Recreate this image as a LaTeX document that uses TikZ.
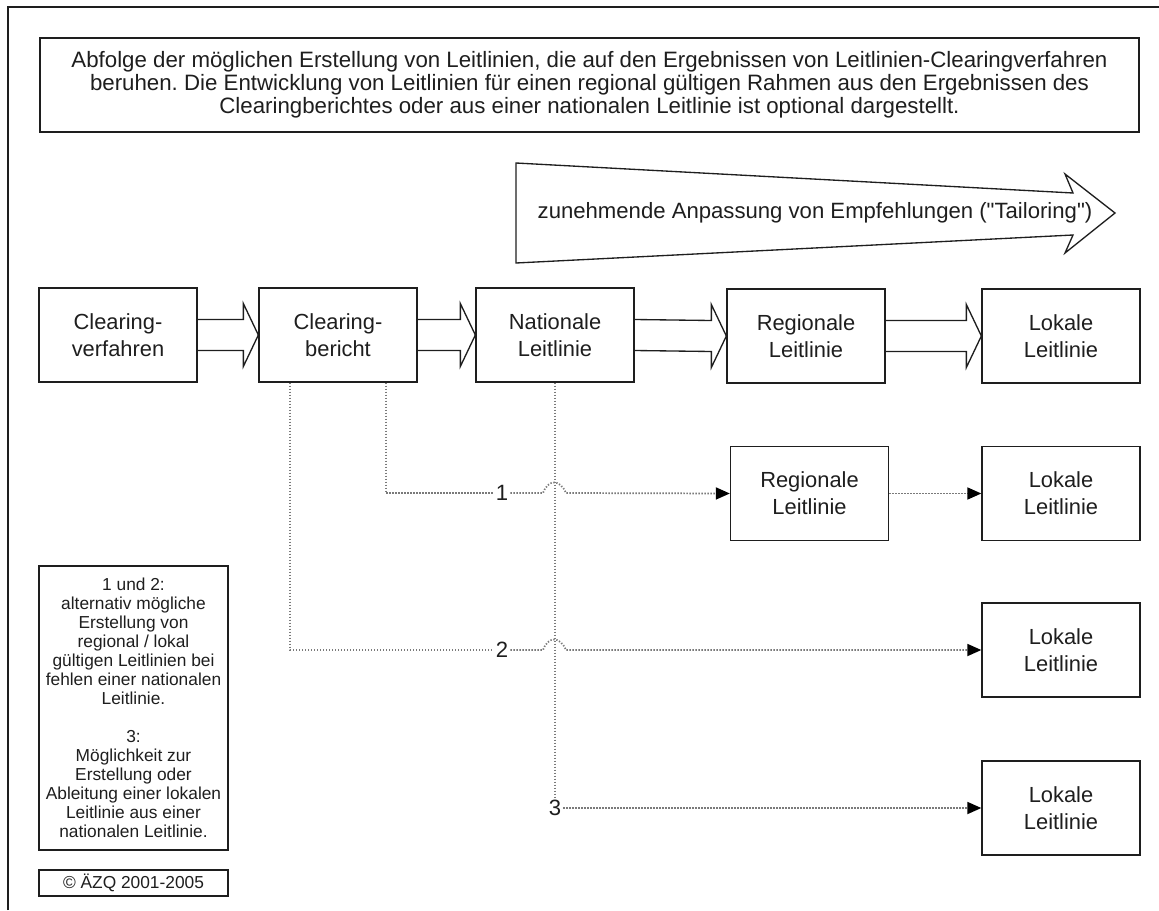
\documentclass[tikz,border=0pt]{standalone}
\usepackage{fontspec}
\setmainfont{Liberation Sans}
\usetikzlibrary{calc,arrows.meta}
\frenchspacing

\definecolor{ink}{HTML}{1E1E1E}
\definecolor{dots}{HTML}{7A7A7A}

\tikzset{
  box/.style={draw=ink, line width=1pt, text=ink, minimum width=118.5pt,
    minimum height=70.5pt, inner sep=0pt, align=center,
    font=\fontsize{16.4}{20}\selectfont},
  num/.style={text=ink, inner sep=1.5pt, font=\fontsize{16.6}{18}\selectfont},
  blockarrow/.style={draw=ink, line width=1pt},
  dotline/.style={draw=dots, line width=1.3pt, dash pattern=on 1pt off 1.25pt},
  tip/.style={-{Triangle[length=10.5pt,width=9pt,color=black]}}
}

\begin{document}
\begin{tikzpicture}[x=0.75pt, y=-0.75pt]
  \useasboundingbox (0,0) rectangle (1159,910);
  % frame
  \draw[ink, line width=1pt] (8,910) -- (8,7) -- (1159,7);
  % heading
  \node[box, minimum width=824.25pt, font=\fontsize{16.7}{17.1}\selectfont]
    (head) at (589.5,85)
    {Abfolge der möglichen Erstellung von Leitlinien, die auf den Ergebnissen von Leitlinien-Clearingverfahren\\
     beruhen. Die Entwicklung von Leitlinien für einen regional gültigen Rahmen aus den Ergebnissen des\\
     Clearingberichtes oder aus einer nationalen Leitlinie ist optional dargestellt.};
  % tailoring arrow
  \draw[blockarrow] (516,163) -- (1073,193) -- (1065,174) -- (1115,213)
    -- (1065,253) -- (1073,235) -- (516,263) -- cycle;
  \node[num] (tailor) at (815,213)
    {zunehmende Anpassung von Empfehlungen (\textquotedbl Tailoring\textquotedbl)};
  % - main row
  \node[box] (cv) at (118,335) {Clearing-\\verfahren};
  \node[box] (cb) at (338,335) {Clearing-\\bericht};
  \node[box] (nl) at (555,335) {Nationale\\Leitlinie};
  \node[box] (rl) at (806,336) {Regionale\\Leitlinie};
  \node[box] (ll) at (1061,336) {Lokale\\Leitlinie};
  \foreach \s/\t in {cv/cb, cb/nl, nl/rl, rl/ll}
    \draw[blockarrow] ($(\s.east)+(0,-15.5)$) -- ($(\t.west)+(-15,-15.5)$)
      -- ($(\t.west)+(-15,-31.5)$) -- (\t.west) -- ($(\t.west)+(-15,31.5)$)
      -- ($(\t.west)+(-15,15.5)$) -- ($(\s.east)+(0,15.5)$);
  % - alternatives
  \node[box] (rl2) at (809.5,493.5) {Regionale\\Leitlinie};
  \node[box] (ll2) at (1061,493.5) {Lokale\\Leitlinie};
  \node[box] (ll3) at (1061,650) {Lokale\\Leitlinie};
  \node[box] (ll4) at (1061,808) {Lokale\\Leitlinie};
  \node[num] (n1) at (502,493) {1};
  \node[num] (n2) at (502,650) {2};
  \node[num] (n3) at (555,808) {3};
  \coordinate (c1) at ($(cb.south east)+(-32,0)$);
  \coordinate (c2) at ($(cb.south west)+(32,0)$);
  % path 1
  \draw[dotline] (c1) |- (n1.west);
  \draw[dotline, tip] (n1.east) -- (543,493) .. controls (548,479) and (560,479) .. (566,493)
    -- (rl2.west);
  \draw[dotline, tip] (rl2.east) -- (ll2.west);
  % path 2
  \draw[dotline] (c2) |- (n2.west);
  \draw[dotline, tip] (n2.east) -- (543,650) .. controls (548,636) and (560,636) .. (566,650)
    -- (ll3.west);
  % path 3
  \draw[dotline] (nl.south) -- (n3.north);
  \draw[dotline, tip] (n3.east) -- (ll4.west);
  % legend
  \node[box, minimum width=141.75pt, minimum height=213pt,
    font=\fontsize{13}{14.25}\selectfont] (legend) at (133.5,708)
    {1 und 2:\\alternativ mögliche\\Erstellung von\\regional / lokal\\gültigen Leitlinien bei\\
     fehlen einer nationalen\\Leitlinie.\\[14.25pt]3:\\Möglichkeit zur\\Erstellung oder\\
     Ableitung einer lokalen\\Leitlinie aus einer\\nationalen Leitlinie.};
  \node[box, minimum width=141.75pt, minimum height=19.5pt,
    font=\fontsize{13}{14}\selectfont] (copy) at (133.5,883) {© ÄZQ 2001-2005};
\end{tikzpicture}
\end{document}
